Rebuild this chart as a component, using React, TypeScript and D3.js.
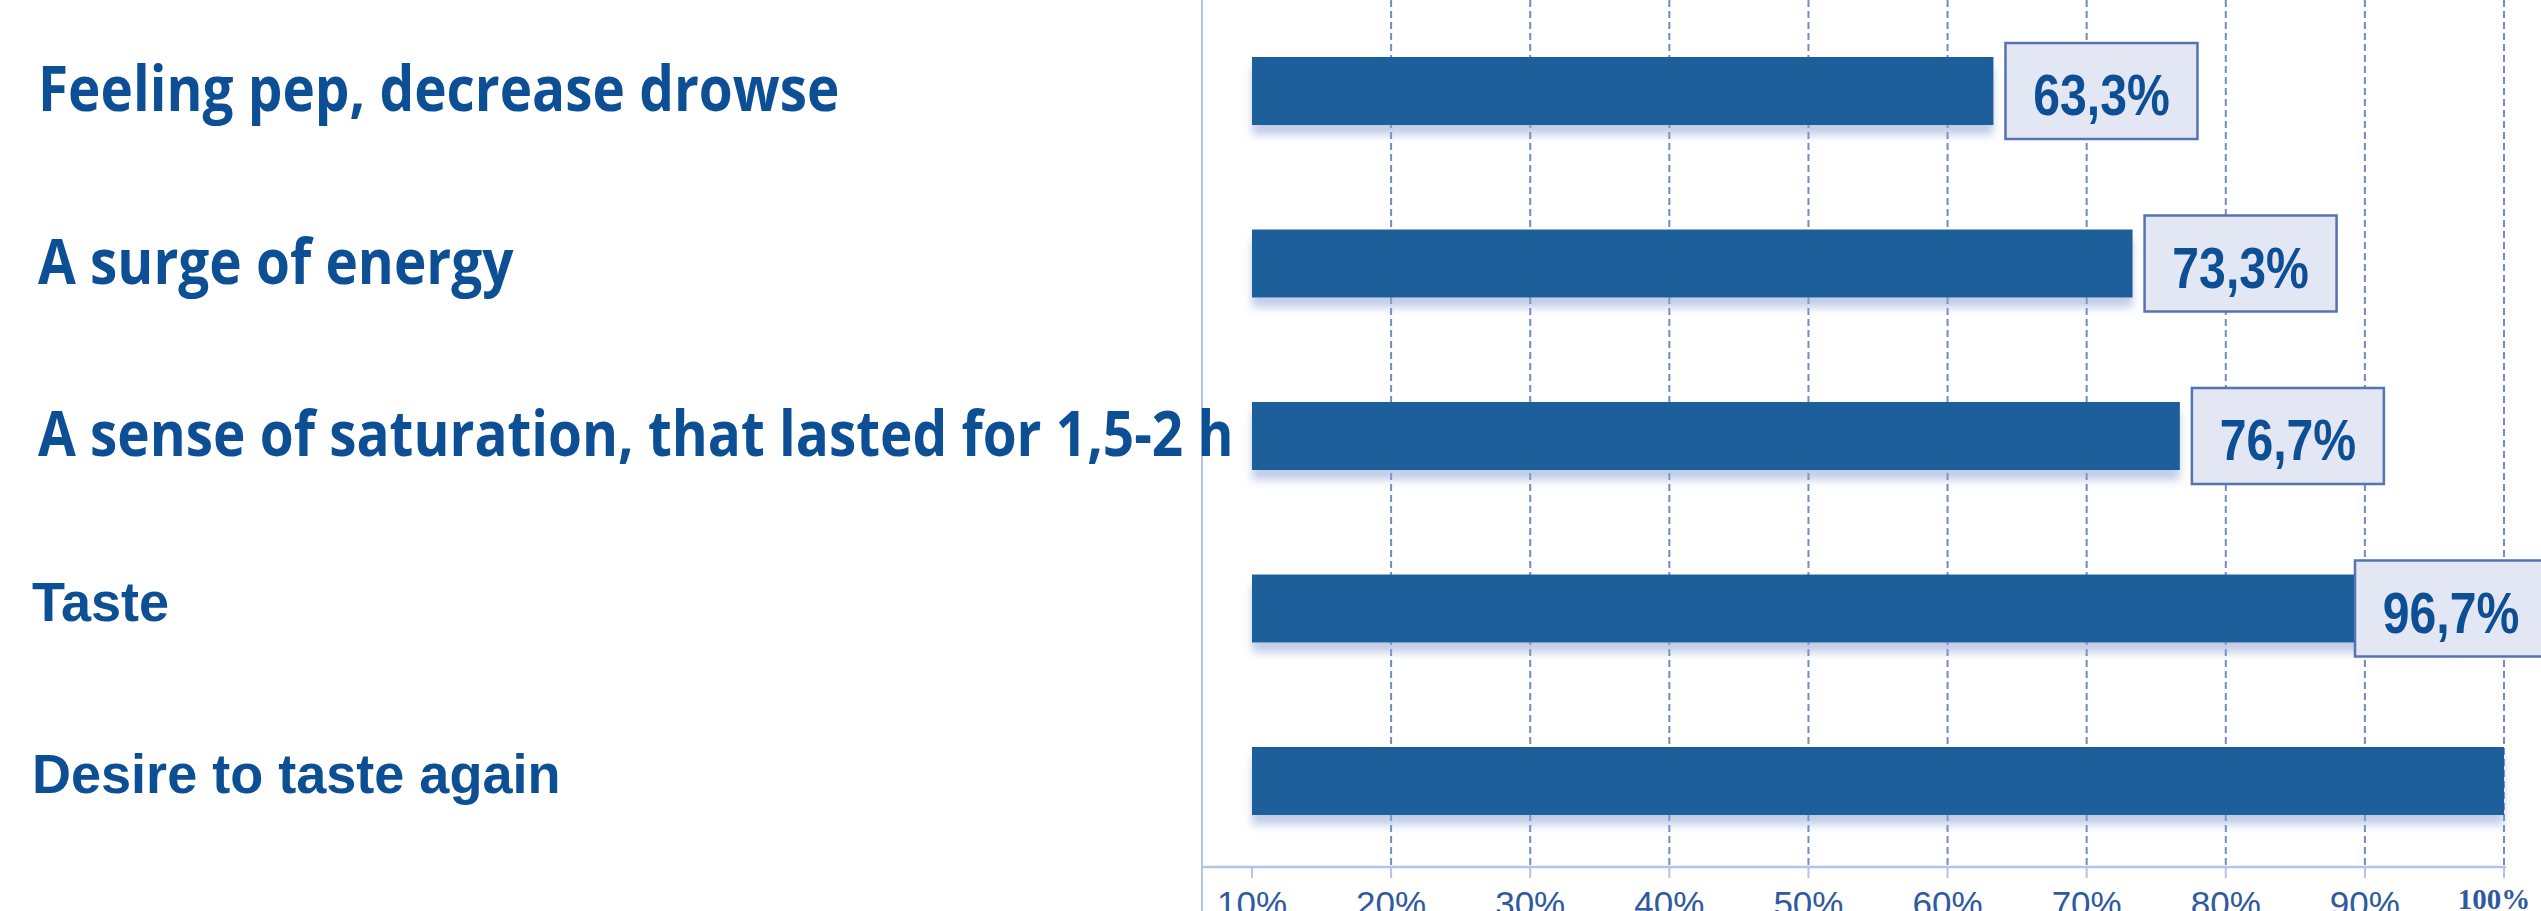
import React from "react";
import * as d3 from "d3";

const categories: string[] = [
  "Feeling pep, decrease drowse",
  "A surge of energy",
  "A sense of saturation, that lasted for 1,5-2 h",
  "Taste",
  "Desire to taste again",
];
const values: number[] = [63.3, 73.3, 76.7, 96.7, 100];
const tickValues: number[] = [10, 20, 30, 40, 50, 60, 70, 80, 90, 100];
const tickLabels: string[] = ["10%", "20%", "30%", "40%", "50%", "60%", "70%", "80%", "90%", "100%"];

// style-only: which font family each label uses in the original slide
const labelFontKinds: string[] = ["humanist", "humanist", "humanist", "grotesque", "grotesque"];

const W = 2541;
const H = 911;
const AXIS_X = 1202;
const AXIS_Y = 867;
const BAR_H = 68;
const BOX_W = 192;
const BOX_H = 96;

const BAR_COLOR = "#1f5e9b";
const TEXT_COLOR = "#0d4f95";
const GRID_COLOR = "#6f8cc4";
const AXIS_COLOR = "#b7c3e2";
const TICK_TEXT = "#2f5a9e";

export default function App() {
  const x = d3.scaleLinear().domain([10, 100]).range([1252, 2504]);
  const y = d3.scalePoint<string>().domain(categories).range([91, 781]);
  const fmt = (v: number) => d3.format(".1f")(v).replace(".", ",") + "%";

  return (
    <svg
      width={W}
      height={H}
      viewBox={`0 0 ${W} ${H}`}
      style={{ position: "absolute", left: 0, top: 0, display: "block", background: "#ffffff" }}
    >
      <defs>
        <filter id="barShadow" x="-5%" y="-30%" width="110%" height="190%">
          <feDropShadow dx="0" dy="10" stdDeviation="4" floodColor="#8ea4d4" floodOpacity="0.55" />
        </filter>
      </defs>
      <rect x={0} y={0} width={W} height={H} fill="#ffffff" />

      {/* grid lines */}
      {tickValues
        .filter((t) => t > 10)
        .map((t) => (
          <line
            key={"g" + t}
            x1={x(t)}
            x2={x(t)}
            y1={0}
            y2={AXIS_Y}
            stroke={GRID_COLOR}
            strokeWidth={2}
            strokeDasharray="7,4"
          />
        ))}

      {/* axes */}
      <line x1={AXIS_X} x2={AXIS_X} y1={0} y2={H} stroke={AXIS_COLOR} strokeWidth={2} />
      <line x1={AXIS_X} x2={x(100) + 2} y1={AXIS_Y} y2={AXIS_Y} stroke={AXIS_COLOR} strokeWidth={2.5} />
      {tickValues.map((t) => (
        <line key={"t" + t} x1={x(t)} x2={x(t)} y1={AXIS_Y} y2={AXIS_Y + 11} stroke={AXIS_COLOR} strokeWidth={2} />
      ))}
      {tickValues.map((t, i) =>
        t === 100 ? (
          <text
            key={"l" + t}
            x={x(t) - 10}
            y={909}
            textAnchor="middle"
            fontFamily="'Liberation Serif', 'DejaVu Serif', serif"
            fontWeight="bold"
            fontSize={29}
            fill={TICK_TEXT}
          >
            {tickLabels[i]}
          </text>
        ) : (
          <text
            key={"l" + t}
            x={x(t)}
            y={916}
            textAnchor="middle"
            fontFamily="'Liberation Sans', Arial, sans-serif"
            fontSize={35}
            fill={TICK_TEXT}
          >
            {tickLabels[i]}
          </text>
        )
      )}

      {/* bars */}
      {categories.map((c, i) => (
        <rect
          key={"b" + i}
          x={x(10)}
          y={(y(c) as number) - BAR_H / 2}
          width={x(values[i]) - x(10)}
          height={BAR_H}
          fill={BAR_COLOR}
          filter="url(#barShadow)"
        />
      ))}

      {/* value boxes */}
      {categories.map((c, i) => {
        if (values[i] >= 100) return null;
        const cy = y(c) as number;
        const left = Math.min(x(values[i]) + 12, W - 186);
        return (
          <g key={"box" + i}>
            <rect
              x={left}
              y={cy - BOX_H / 2}
              width={BOX_W}
              height={BOX_H}
              fill="#e3e6f3"
              stroke="#5573b0"
              strokeWidth={2.5}
            />
            <text
              transform={`translate(${left + BOX_W / 2},${cy + 24}) scale(0.83,1)`}
              textAnchor="middle"
              fontFamily="'Liberation Sans', Arial, sans-serif"
              fontWeight="bold"
              fontSize={58}
              fill={TEXT_COLOR}
            >
              {fmt(values[i])}
            </text>
          </g>
        );
      })}

      {/* category labels */}
      {categories.map((c, i) => {
        const cy = y(c) as number;
        const humanist = labelFontKinds[i] === "humanist";
        return (
          <text
            key={"c" + i}
            transform={`translate(${humanist ? 38 : 32},${cy + (humanist ? 20 : 12)}) scale(${humanist ? 0.885 : 0.965},1)`}
            fontFamily={humanist ? "'Open Sans', sans-serif" : "'Liberation Sans', Arial, sans-serif"}
            fontWeight="bold"
            fontSize={humanist ? 62 : 56}
            fill={TEXT_COLOR}
          >
            {c}
          </text>
        );
      })}
    </svg>
  );
}
